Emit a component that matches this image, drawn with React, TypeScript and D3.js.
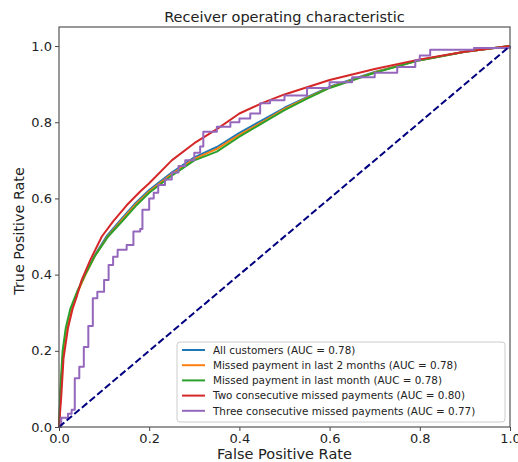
import React, { useRef, useEffect } from 'react';
import * as d3 from 'd3';

// ROC curves (fpr, tpr)
const allCustomersFpr = [0, 0.004, 0.009, 0.016, 0.026, 0.04, 0.057, 0.08, 0.107, 0.14, 0.17, 0.2, 0.25, 0.3, 0.35, 0.4, 0.45, 0.5, 0.55, 0.6, 0.7, 0.8, 0.9, 1];
const allCustomersTpr = [0, 0.1, 0.19, 0.255, 0.305, 0.352, 0.4, 0.452, 0.503, 0.548, 0.588, 0.622, 0.668, 0.708, 0.735, 0.772, 0.805, 0.838, 0.866, 0.893, 0.932, 0.963, 0.985, 1];

const last2MonthsFpr = [0, 0.004, 0.009, 0.016, 0.026, 0.04, 0.058, 0.08, 0.108, 0.14, 0.17, 0.2, 0.25, 0.3, 0.35, 0.4, 0.45, 0.5, 0.55, 0.6, 0.7, 0.8, 0.9, 1];
const last2MonthsTpr = [0, 0.1, 0.19, 0.255, 0.305, 0.35, 0.398, 0.45, 0.5, 0.544, 0.584, 0.618, 0.664, 0.704, 0.73, 0.767, 0.8, 0.835, 0.864, 0.891, 0.931, 0.963, 0.985, 1];

const lastMonthFpr = [0, 0.003, 0.008, 0.015, 0.025, 0.04, 0.058, 0.08, 0.109, 0.14, 0.17, 0.2, 0.25, 0.3, 0.35, 0.4, 0.45, 0.5, 0.55, 0.6, 0.7, 0.8, 0.9, 1];
const lastMonthTpr = [0, 0.1, 0.2, 0.26, 0.31, 0.355, 0.4, 0.45, 0.5, 0.54, 0.58, 0.615, 0.66, 0.7, 0.723, 0.762, 0.797, 0.832, 0.862, 0.89, 0.93, 0.963, 0.985, 1];

const twoConsecutiveFpr = [0, 0.005, 0.01, 0.02, 0.03, 0.04, 0.05, 0.07, 0.095, 0.12, 0.15, 0.18, 0.2, 0.25, 0.3, 0.35, 0.4, 0.45, 0.5, 0.6, 0.7, 0.8, 0.9, 1];
const twoConsecutiveTpr = [0, 0.08, 0.18, 0.26, 0.31, 0.345, 0.385, 0.44, 0.5, 0.54, 0.582, 0.618, 0.64, 0.7, 0.745, 0.782, 0.823, 0.85, 0.873, 0.911, 0.94, 0.965, 0.985, 1];

const threeConsecutiveFpr = [0, 0.005, 0.02, 0.028, 0.035, 0.045, 0.055, 0.065, 0.075, 0.085, 0.1, 0.11, 0.12, 0.13, 0.15, 0.165, 0.18, 0.185, 0.2, 0.21, 0.22, 0.235, 0.25, 0.265, 0.28, 0.3, 0.313, 0.32, 0.35, 0.38, 0.4, 0.424, 0.446, 0.468, 0.5, 0.55, 0.6, 0.65, 0.7, 0.75, 0.79, 0.8, 0.823, 0.92, 1];
const threeConsecutiveTpr = [0, 0.024, 0.035, 0.045, 0.128, 0.158, 0.21, 0.265, 0.338, 0.355, 0.386, 0.425, 0.447, 0.465, 0.478, 0.513, 0.52, 0.57, 0.6, 0.615, 0.635, 0.65, 0.668, 0.685, 0.7, 0.72, 0.736, 0.775, 0.788, 0.8, 0.81, 0.823, 0.85, 0.858, 0.87, 0.89, 0.905, 0.918, 0.93, 0.945, 0.963, 0.975, 0.99, 0.995, 1];

const seriesLabels = [
  'All customers (AUC = 0.78)',
  'Missed payment in last 2 months (AUC = 0.78)',
  'Missed payment in last month (AUC = 0.78)',
  'Two consecutive missed payments (AUC = 0.80)',
  'Three consecutive missed payments (AUC = 0.77)',
];
const seriesColors = ['#1f77b4', '#ff7f0e', '#2ca02c', '#d62728', '#9467bd'];
const ticks = [0, 0.2, 0.4, 0.6, 0.8, 1.0];

export default function App() {
  const ref = useRef<SVGSVGElement>(null);

  useEffect(() => {
    const svg = d3.select(ref.current);
    svg.selectAll('*').remove();
    const font = 'DejaVu Sans, sans-serif';

    const left = 59, right = 510, top = 27, bottom = 427;
    const x = d3.scaleLinear().domain([0, 1]).range([left, right]);
    const y = d3.scaleLinear().domain([0, 1.05]).range([bottom, top]);

    const series = [
      [allCustomersFpr, allCustomersTpr],
      [last2MonthsFpr, last2MonthsTpr],
      [lastMonthFpr, lastMonthTpr],
      [twoConsecutiveFpr, twoConsecutiveTpr],
      [threeConsecutiveFpr, threeConsecutiveTpr],
    ].map(([f, t]) => f.map((v, i) => [v, t[i]] as [number, number]));

    const g = svg.append('g');

    series.forEach((pts, i) => {
      const line = d3.line<[number, number]>()
        .x(d => x(d[0]))
        .y(d => y(d[1]))
        .curve(i === 4 ? d3.curveStepAfter : d3.curveLinear);
      g.append('path')
        .attr('d', line(pts))
        .attr('fill', 'none')
        .attr('stroke', seriesColors[i])
        .attr('stroke-width', 2)
        .attr('stroke-linejoin', 'round');
    });

    // chance line
    g.append('line')
      .attr('x1', x(0)).attr('y1', y(0))
      .attr('x2', x(1)).attr('y2', y(1))
      .attr('stroke', 'navy')
      .attr('stroke-width', 2)
      .attr('stroke-dasharray', '7,3');

    // axes
    const xAxis = svg.append('g')
      .attr('transform', `translate(0,${bottom})`)
      .call(d3.axisBottom(x).tickValues(ticks).tickFormat(d3.format('.1f')).tickSize(4).tickSizeOuter(0));
    const yAxis = svg.append('g')
      .attr('transform', `translate(${left},0)`)
      .call(d3.axisLeft(y).tickValues(ticks).tickFormat(d3.format('.1f')).tickSize(4).tickSizeOuter(0));
    [xAxis, yAxis].forEach(a => {
      a.select('.domain').remove();
      a.selectAll('line').attr('stroke', '#444');
      a.selectAll('text')
        .attr('fill', '#222')
        .style('font-family', font)
        .style('font-size', '13px');
    });

    // frame
    svg.append('rect')
      .attr('x', left).attr('y', top)
      .attr('width', right - left).attr('height', bottom - top)
      .attr('fill', 'none')
      .attr('stroke', '#555')
      .attr('stroke-width', 1.2);

    svg.append('text')
      .attr('x', (left + right) / 2).attr('y', 22)
      .attr('text-anchor', 'middle')
      .attr('fill', '#222')
      .style('font-family', font).style('font-size', '14.5px')
      .text('Receiver operating characteristic');

    svg.append('text')
      .attr('x', (left + right) / 2).attr('y', 459)
      .attr('text-anchor', 'middle')
      .attr('fill', '#222')
      .style('font-family', font).style('font-size', '14.5px')
      .text('False Positive Rate');

    svg.append('text')
      .attr('transform', `translate(24,231) rotate(-90)`)
      .attr('text-anchor', 'middle')
      .attr('fill', '#222')
      .style('font-family', font).style('font-size', '14.3px')
      .text('True Positive Rate');

    // legend
    const lg = svg.append('g').attr('transform', 'translate(177,342)');
    lg.append('rect')
      .attr('width', 328).attr('height', 80)
      .attr('rx', 3)
      .attr('fill', 'white').attr('fill-opacity', 0.85)
      .attr('stroke', '#ccc');
    seriesLabels.forEach((label, i) => {
      const ly = 8 + i * 15.2;
      lg.append('line')
        .attr('x1', 5).attr('x2', 28)
        .attr('y1', ly).attr('y2', ly)
        .attr('stroke', seriesColors[i]).attr('stroke-width', 2);
      lg.append('text')
        .attr('x', 36).attr('y', ly + 3.8)
        .attr('fill', '#222')
        .style('font-family', font).style('font-size', '10.4px')
        .text(label);
    });
  }, []);

  return (
    <svg ref={ref} width={518} height={462}
      style={{ position: 'absolute', left: 0, top: 0, background: 'white' }} />
  );
}
